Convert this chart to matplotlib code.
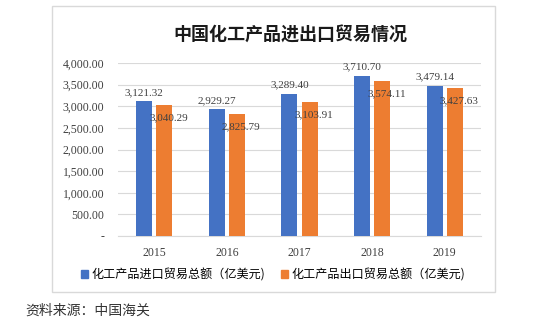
import matplotlib
matplotlib.use("Agg")
import matplotlib.pyplot as plt
from matplotlib.patches import Rectangle
from matplotlib.ticker import FuncFormatter
import numpy as np

years = ["2015", "2016", "2017", "2018", "2019"]
imports = [3121.32, 2929.27, 3289.40, 3710.70, 3479.14]
exports = [3040.29, 2825.79, 3103.91, 3574.11, 3427.63]
title = "中国化工产品进出口贸易情况"
legend_labels = ["化工产品进口贸易总额（亿美元)", "化工产品出口贸易总额（亿美元)"]
source = "资料来源：中国海关"

BLUE = "#4472C4"
ORANGE = "#ED7D31"
CJK = ["Noto Sans CJK SC", "DejaVu Sans"]
SERIF = "Liberation Serif"

W, H = 539, 329
fig = plt.figure(figsize=(W / 100, H / 100), dpi=100)
fig.patch.set_facecolor("white")

# outer chart frame
fig.patches.append(Rectangle((52 / W, 1 - 292 / H), (495 - 52) / W, (292 - 6) / H,
                             transform=fig.transFigure, fill=False,
                             edgecolor="#D9D9D9", lw=1))

ax = fig.add_axes([118 / W, 1 - 236 / H, (481 - 118) / W, (236 - 63) / H])
x = np.arange(len(years))
bw = 0.22
gap = 0.03
ax.bar(x - bw / 2 - gap, imports, bw, color=BLUE, zorder=3)
ax.bar(x + bw / 2 + gap, exports, bw, color=ORANGE, zorder=3)

for xi, v in zip(x, imports):
    ax.annotate(f"{v:,.2f}", (xi - bw / 2 - gap, v), xytext=(0, 3),
                textcoords="offset points", ha="center", va="bottom",
                fontsize=8, family=SERIF, color="#404040")
for xi, v in zip(x, exports):
    ax.annotate(f"{v:,.2f}", (xi + bw / 2 + gap, v), xytext=(3, -6),
                textcoords="offset points", ha="center", va="top",
                fontsize=8, family=SERIF, color="#404040")

ax.set_xlim(-0.5, len(years) - 0.5)
ax.set_ylim(0, 4000)
ax.set_yticks(np.arange(0, 4001, 500))
ax.yaxis.set_major_formatter(FuncFormatter(lambda v, p: "-" if v == 0 else f"{v:,.2f}"))
ax.set_xticks(x)
ax.set_xticklabels(years)
for lab in ax.get_xticklabels() + ax.get_yticklabels():
    lab.set_family(SERIF)
    lab.set_fontsize(8.5)
    lab.set_color("#404040")
ax.tick_params(axis="both", length=0)
ax.tick_params(axis="y", pad=10)
ax.tick_params(axis="x", pad=8)
ax.grid(axis="y", color="#D9D9D9", lw=0.8, zorder=0)
for s in ["top", "right", "left"]:
    ax.spines[s].set_visible(False)
ax.spines["bottom"].set_color("#D9D9D9")

fig.text(290 / W, 1 - 35 / H, title, ha="center", va="center",
         fontsize=13, fontweight="bold", family=CJK, color="#1a1a1a")

handles = [Rectangle((0, 0), 1, 1, color=BLUE), Rectangle((0, 0), 1, 1, color=ORANGE)]
fig.legend(handles, legend_labels, loc="center", bbox_to_anchor=(273 / W, 1 - 275 / H),
           ncol=2, frameon=False, prop={"family": CJK, "size": 8.7},
           handlelength=0.6, handleheight=0.6, handletextpad=0.3, columnspacing=1.3)

fig.text(25 / W, 1 - 311 / H, source, ha="left", va="center",
         fontsize=10, family=CJK, color="#333333")

fig.savefig("out.png", dpi=100, facecolor="white")
